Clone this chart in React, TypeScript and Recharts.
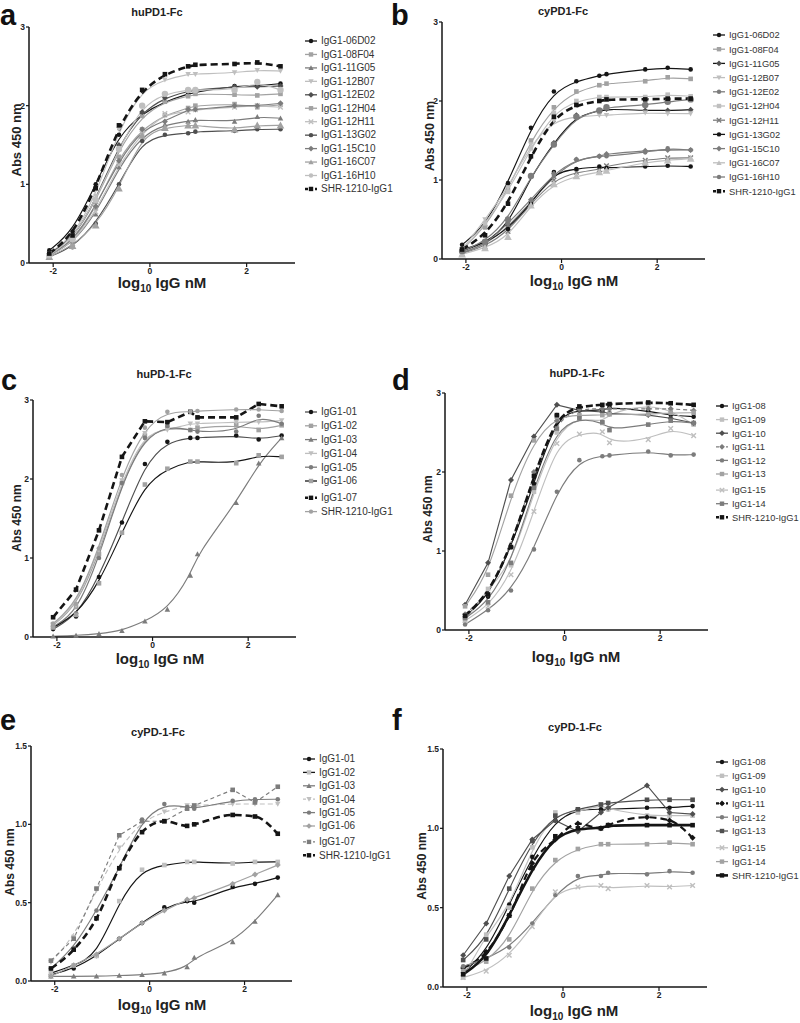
import React from 'react';
import { ComposedChart, Line, XAxis, YAxis } from 'recharts';

// log10 of the IgG concentrations (nM), shared by every panel
const logConc = [-2.08, -1.6, -1.12, -0.64, -0.16, 0.31, 0.79, 0.94, 1.75, 2.22, 2.7];

// a: huPD1-Fc
const aNames = ['IgG1-06D02', 'IgG1-08F04', 'IgG1-11G05', 'IgG1-12B07', 'IgG1-12E02', 'IgG1-12H04', 'IgG1-12H11', 'IgG1-13G02', 'IgG1-15C10', 'IgG1-16C07', 'IgG1-16H10', 'SHR-1210-IgG1'];
const aValues = [
  [0.16, 0.40, 1.00, 1.63, 1.90, 2.05, 2.15, 2.17, 2.25, 2.25, 2.28],
  [0.12, 0.30, 0.78, 1.45, 1.87, 2.05, 2.12, 2.15, 2.14, 2.13, 2.15],
  [0.10, 0.25, 0.62, 1.22, 1.62, 1.76, 1.80, 1.82, 1.80, 1.86, 1.84],
  [0.12, 0.33, 0.85, 1.70, 2.20, 2.33, 2.40, 2.40, 2.42, 2.45, 2.44],
  [0.12, 0.30, 0.80, 1.50, 1.92, 2.10, 2.18, 2.20, 2.24, 2.24, 2.25],
  [0.10, 0.25, 0.70, 1.35, 1.70, 1.88, 1.97, 2.00, 2.02, 1.98, 2.01],
  [0.10, 0.25, 0.65, 1.25, 1.65, 1.90, 1.92, 1.95, 1.98, 2.00, 1.98],
  [0.08, 0.20, 0.50, 1.00, 1.55, 1.63, 1.65, 1.67, 1.68, 1.70, 1.70],
  [0.10, 0.27, 0.72, 1.30, 1.70, 1.80, 1.95, 1.95, 2.00, 2.00, 2.03],
  [0.08, 0.22, 0.48, 0.95, 1.62, 1.72, 1.75, 1.75, 1.70, 1.75, 1.75],
  [0.10, 0.30, 0.80, 1.45, 2.00, 2.15, 2.20, 2.20, 2.20, 2.30, 2.20],
  [0.12, 0.35, 0.95, 1.75, 2.20, 2.40, 2.50, 2.52, 2.53, 2.55, 2.50],
];

// b: cyPD1-Fc
const bNames = ['IgG1-06D02', 'IgG1-08F04', 'IgG1-11G05', 'IgG1-12B07', 'IgG1-12E02', 'IgG1-12H04', 'IgG1-12H11', 'IgG1-13G02', 'IgG1-15C10', 'IgG1-16C07', 'IgG1-16H10', 'SHR-1210-IgG1'];
const bValues = [
  [0.18, 0.42, 0.96, 1.66, 2.12, 2.25, 2.32, 2.34, 2.40, 2.42, 2.40],
  [0.12, 0.40, 0.88, 1.50, 1.92, 2.12, 2.20, 2.22, 2.25, 2.30, 2.28],
  [0.10, 0.20, 0.42, 1.05, 1.47, 1.82, 1.87, 1.90, 1.88, 1.88, 1.89],
  [0.12, 0.50, 0.90, 1.45, 1.75, 1.80, 1.82, 1.82, 1.85, 1.84, 1.84],
  [0.08, 0.18, 0.40, 0.72, 1.05, 1.26, 1.30, 1.30, 1.35, 1.40, 1.38],
  [0.10, 0.45, 0.85, 1.40, 1.85, 2.00, 2.05, 2.05, 2.05, 2.08, 2.06],
  [0.07, 0.16, 0.35, 0.70, 1.00, 1.10, 1.13, 1.18, 1.25, 1.28, 1.28],
  [0.12, 0.20, 0.38, 0.70, 1.10, 1.14, 1.17, 1.15, 1.17, 1.18, 1.17],
  [0.08, 0.18, 0.45, 0.75, 1.08, 1.26, 1.30, 1.33, 1.37, 1.38, 1.38],
  [0.06, 0.14, 0.28, 0.68, 0.95, 1.05, 1.10, 1.12, 1.22, 1.25, 1.27],
  [0.10, 0.22, 0.50, 1.05, 1.45, 1.80, 1.88, 1.92, 1.95, 1.99, 2.02],
  [0.12, 0.30, 0.70, 1.30, 1.80, 1.95, 2.00, 2.02, 2.02, 2.03, 2.03],
];

// c: huPD-1-Fc
const cNames = ['IgG1-01', 'IgG1-02', 'IgG1-03', 'IgG1-04', 'IgG1-05', 'IgG1-06', 'IgG1-07', 'SHR-1210-IgG1'];
const cValues = [
  [0.10, 0.26, 0.76, 1.45, 2.19, 2.47, 2.52, 2.52, 2.55, 2.50, 2.55],
  [0.15, 0.38, 1.05, 1.95, 2.55, 2.65, 2.62, 2.65, 2.68, 2.62, 2.68],
  [0.01, 0.02, 0.04, 0.08, 0.20, 0.35, 0.78, 1.05, 1.70, 2.20, 2.52],
  [0.16, 0.40, 1.10, 1.98, 2.58, 2.62, 2.70, 2.70, 2.72, 2.72, 2.74],
  [0.13, 0.30, 1.00, 1.95, 2.52, 2.67, 2.62, 2.60, 2.60, 2.80, 2.70],
  [0.12, 0.28, 0.68, 1.32, 1.93, 2.13, 2.22, 2.22, 2.20, 2.30, 2.28],
  [0.25, 0.60, 1.35, 2.28, 2.73, 2.72, 2.85, 2.78, 2.78, 2.95, 2.92],
  [0.17, 0.42, 1.12, 2.05, 2.65, 2.85, 2.85, 2.86, 2.88, 2.88, 2.86],
];

// d: huPD-1-Fc
const dNames = ['IgG1-08', 'IgG1-09', 'IgG1-10', 'IgG1-11', 'IgG1-12', 'IgG1-13', 'IgG1-15', 'IgG1-14', 'SHR-1210-IgG1'];
const dValues = [
  [0.17, 0.42, 1.05, 1.85, 2.72, 2.78, 2.78, 2.82, 2.77, 2.72, 2.70],
  [0.12, 0.52, 0.82, 1.75, 2.50, 2.70, 2.62, 2.75, 2.85, 2.78, 2.60],
  [0.32, 0.85, 1.90, 2.45, 2.85, 2.78, 2.76, 2.74, 2.72, 2.68, 2.62],
  [0.20, 0.45, 1.05, 2.00, 2.65, 2.80, 2.80, 2.80, 2.80, 2.80, 2.78],
  [0.07, 0.25, 0.50, 1.02, 1.75, 2.15, 2.20, 2.21, 2.26, 2.21, 2.22],
  [0.30, 0.70, 1.70, 2.40, 2.70, 2.72, 2.72, 2.73, 2.73, 2.75, 2.75],
  [0.12, 0.30, 0.70, 1.50, 2.36, 2.48, 2.51, 2.37, 2.41, 2.55, 2.46],
  [0.15, 0.35, 0.85, 1.80, 2.55, 2.68, 2.63, 2.53, 2.60, 2.65, 2.62],
  [0.18, 0.45, 1.05, 1.95, 2.72, 2.83, 2.85, 2.86, 2.88, 2.87, 2.85],
];

// e: cyPD-1-Fc
const eNames = ['IgG1-01', 'IgG1-02', 'IgG1-03', 'IgG1-04', 'IgG1-05', 'IgG1-06', 'IgG1-07', 'SHR-1210-IgG1'];
const eValues = [
  [0.04, 0.08, 0.16, 0.27, 0.37, 0.47, 0.51, 0.50, 0.60, 0.62, 0.66],
  [0.05, 0.10, 0.16, 0.51, 0.71, 0.74, 0.76, 0.76, 0.75, 0.76, 0.76],
  [0.03, 0.03, 0.03, 0.035, 0.04, 0.05, 0.09, 0.15, 0.25, 0.38, 0.55],
  [0.12, 0.28, 0.58, 0.85, 1.02, 1.08, 1.12, 1.12, 1.13, 1.13, 1.13],
  [0.08, 0.21, 0.45, 0.72, 1.03, 1.13, 1.11, 1.10, 1.15, 1.16, 1.16],
  [0.03, 0.10, 0.17, 0.27, 0.37, 0.45, 0.52, 0.53, 0.62, 0.68, 0.74],
  [0.13, 0.27, 0.59, 0.93, 1.02, 1.02, 1.10, 1.12, 1.22, 1.14, 1.24],
  [0.08, 0.20, 0.40, 0.72, 0.95, 1.02, 0.99, 1.00, 1.06, 1.05, 0.94],
];

// f: cyPD-1-Fc
const fNames = ['IgG1-08', 'IgG1-09', 'IgG1-10', 'IgG1-11', 'IgG1-12', 'IgG1-13', 'IgG1-15', 'IgG1-14', 'SHR-1210-IgG1'];
const fValues = [
  [0.09, 0.22, 0.52, 0.82, 1.05, 1.12, 1.12, 1.12, 1.13, 1.13, 1.14],
  [0.06, 0.33, 0.50, 0.88, 1.10, 1.10, 1.15, 1.12, 1.08, 1.08, 1.08],
  [0.20, 0.40, 0.70, 0.93, 1.05, 0.98, 1.10, 1.13, 1.27, 1.10, 1.09],
  [0.12, 0.22, 0.45, 0.78, 0.93, 1.03, 1.00, 1.02, 1.07, 1.05, 0.94],
  [0.13, 0.18, 0.25, 0.40, 0.58, 0.70, 0.70, 0.72, 0.71, 0.73, 0.72],
  [0.17, 0.30, 0.62, 0.92, 1.08, 1.12, 1.15, 1.16, 1.18, 1.18, 1.18],
  [0.06, 0.10, 0.20, 0.38, 0.60, 0.63, 0.64, 0.62, 0.64, 0.63, 0.64],
  [0.10, 0.16, 0.30, 0.62, 0.80, 0.87, 0.90, 0.90, 0.90, 0.91, 0.90],
  [0.08, 0.18, 0.45, 0.75, 0.95, 1.00, 1.00, 1.02, 1.02, 1.02, 1.02],
];

const FONT = "'Liberation Sans', Arial, Helvetica, sans-serif";
const K = '#151515';
const D = '#4f4f4f';
const M = '#7c7c7c';
const L = '#a2a2a2';
const P = '#bfbfbf';

type Shape = 'circle' | 'square' | 'triangle' | 'tridown' | 'diamond' | 'x';
type Style = { c: string; m: Shape; dc?: string; s?: number; dash?: string; w?: number; curve?: 'basis' | 'linear' | 'monotone' };

const aStyles: Style[] = [
  { c: K, m: 'circle' }, { c: L, m: 'square' }, { c: M, m: 'triangle' }, { c: P, m: 'tridown' },
  { c: D, m: 'diamond' }, { c: L, m: 'square' }, { c: P, m: 'x' }, { c: D, m: 'circle' },
  { c: M, m: 'diamond' }, { c: L, m: 'triangle', s: 3.2 }, { c: P, m: 'circle', s: 3.2 },
  { c: K, m: 'square', dash: '7 4', w: 2.6 },
];
const bStyles: Style[] = [
  { c: K, m: 'circle' }, { c: L, m: 'square' }, { c: K, m: 'diamond', dc: D }, { c: P, m: 'tridown' },
  { c: M, m: 'circle' }, { c: P, m: 'square' }, { c: M, m: 'x' }, { c: K, m: 'circle' },
  { c: M, m: 'diamond' }, { c: P, m: 'triangle', s: 3.2 }, { c: M, m: 'circle', s: 3.2 },
  { c: K, m: 'square', dash: '7 4', w: 2.6 },
];
const cStyles: Style[] = [
  { c: D, m: 'circle', dc: K }, { c: L, m: 'square' }, { c: M, m: 'triangle' }, { c: P, m: 'tridown' },
  { c: M, m: 'circle' }, { c: K, m: 'square', dc: L }, { c: K, m: 'square', dash: '7 4', w: 2.6, curve: 'linear' },
  { c: L, m: 'circle' },
];
const dStyles: Style[] = [
  { c: K, m: 'circle' }, { c: P, m: 'square' }, { c: D, m: 'diamond', curve: 'linear' }, { c: M, m: 'diamond', dash: '4 3' },
  { c: M, m: 'circle' }, { c: L, m: 'square' }, { c: P, m: 'x' }, { c: M, m: 'square' },
  { c: K, m: 'square', dash: '7 3', w: 2.6 },
];
const eStyles: Style[] = [
  { c: K, m: 'circle' }, { c: K, m: 'square', dc: P }, { c: M, m: 'triangle' }, { c: P, m: 'tridown', dash: '5 3' },
  { c: M, m: 'circle' }, { c: L, m: 'diamond' }, { c: M, m: 'square', dash: '4 3', curve: 'linear' },
  { c: K, m: 'square', dash: '7 4', w: 2.6, curve: 'monotone' },
];
const fStyles: Style[] = [
  { c: K, m: 'circle' }, { c: P, m: 'square' }, { c: D, m: 'diamond', curve: 'linear' }, { c: K, m: 'diamond', dash: '7 4', w: 2.2, curve: 'monotone' },
  { c: M, m: 'circle' }, { c: D, m: 'square' }, { c: P, m: 'x' }, { c: L, m: 'square' },
  { c: K, m: 'square', w: 2.6 },
];

type Panel = {
  letter: string; title: string; names: string[]; values: number[][]; styles: Style[];
  plot: { x0: number; x1: number; y0: number; y1: number };
  yMax: number; yTicks: number[]; dec: number;
  letterPos: [number, number]; titlePos: [number, number];
  yLab: [number, number, number]; xLab: [number, number];
  legend: { x: number; y: number; step: number; gapAt: number; gap: number; font: number };
};

const panels: Panel[] = [
  {
    letter: 'a', title: 'huPD1-Fc', names: aNames, values: aValues, styles: aStyles,
    plot: { x0: 29, x1: 295, y0: 27, y1: 263 }, yMax: 3, yTicks: [0, 1, 2, 3], dec: 0,
    letterPos: [0, 25], titlePos: [157, 16], yLab: [21, 140, 13], xLab: [162, 288],
    legend: { x: 305, y: 41, step: 13.45, gapAt: -1, gap: 0, font: 10 },
  },
  {
    letter: 'b', title: 'cyPD1-Fc', names: bNames, values: bValues, styles: bStyles,
    plot: { x0: 442, x1: 705, y0: 22, y1: 259 }, yMax: 3, yTicks: [0, 1, 2, 3], dec: 0,
    letterPos: [391, 25], titlePos: [563, 15], yLab: [434, 136, 12.5], xLab: [574, 286],
    legend: { x: 713, y: 35, step: 14.2, gapAt: -1, gap: 0, font: 9.3 },
  },
  {
    letter: 'c', title: 'huPD-1-Fc', names: cNames, values: cValues, styles: cStyles,
    plot: { x0: 33, x1: 296, y0: 400, y1: 637 }, yMax: 3, yTicks: [0, 1, 2, 3], dec: 0,
    letterPos: [1, 390], titlePos: [164, 378], yLab: [21, 518, 12], xLab: [160, 664],
    legend: { x: 305, y: 412, step: 13.8, gapAt: 6, gap: 3, font: 10 },
  },
  {
    letter: 'd', title: 'huPD-1-Fc', names: dNames, values: dValues, styles: dStyles,
    plot: { x0: 445, x1: 708, y0: 393, y1: 630 }, yMax: 3, yTicks: [0, 1, 2, 3], dec: 0,
    letterPos: [392, 390], titlePos: [577, 377], yLab: [432, 509, 12], xLab: [576, 662],
    legend: { x: 716, y: 406, step: 13.6, gapAt: 6, gap: 2.5, font: 9.3 },
  },
  {
    letter: 'e', title: 'cyPD-1-Fc', names: eNames, values: eValues, styles: eStyles,
    plot: { x0: 31, x1: 292, y0: 746, y1: 981 }, yMax: 1.5, yTicks: [0, 0.5, 1, 1.5], dec: 1,
    letterPos: [0, 730], titlePos: [158, 736], yLab: [14, 862, 12], xLab: [162, 1010],
    legend: { x: 303, y: 759, step: 13.4, gapAt: 6, gap: 2.5, font: 10 },
  },
  {
    letter: 'f', title: 'cyPD-1-Fc', names: fNames, values: fValues, styles: fStyles,
    plot: { x0: 443, x1: 707, y0: 749, y1: 987 }, yMax: 1.5, yTicks: [0, 0.5, 1, 1.5], dec: 1,
    letterPos: [392, 730], titlePos: [575, 731], yLab: [426, 866, 12], xLab: [574, 1016],
    legend: { x: 716, y: 762, step: 13.8, gapAt: 6, gap: 3, font: 9.3 },
  },
];

function Mark({ shape, x, y, c, s }: { shape: Shape; x: number; y: number; c: string; s: number }) {
  switch (shape) {
    case 'circle':
      return <circle cx={x} cy={y} r={s} fill={c} />;
    case 'square':
      return <rect x={x - s} y={y - s} width={2 * s} height={2 * s} fill={c} />;
    case 'triangle':
      return <polygon points={`${x},${y - s * 1.2} ${x - s * 1.2},${y + s} ${x + s * 1.2},${y + s}`} fill={c} />;
    case 'tridown':
      return <polygon points={`${x},${y + s * 1.2} ${x - s * 1.2},${y - s} ${x + s * 1.2},${y - s}`} fill={c} />;
    case 'diamond':
      return <polygon points={`${x},${y - s * 1.3} ${x + s * 1.3},${y} ${x},${y + s * 1.3} ${x - s * 1.3},${y}`} fill={c} />;
    default:
      return (
        <path d={`M${x - s},${y - s}L${x + s},${y + s}M${x - s},${y + s}L${x + s},${y - s}`} stroke={c} strokeWidth={1.4} />
      );
  }
}

function PanelChart({ p }: { p: Panel }) {
  const data = logConc.map((x, i) => {
    const row: Record<string, number> = { x };
    p.values.forEach((v, j) => {
      row['s' + j] = v[i];
    });
    return row;
  });
  const yW = 30;
  const xH = 20;
  const left = p.plot.x0 - yW - 10;
  const top = p.plot.y0 - 8;
  const width = p.plot.x1 - left + 6;
  const height = p.plot.y1 - top + xH + 4;
  const axisTick = { fontSize: 8.5, fontWeight: 700, fill: '#222', fontFamily: FONT };
  return (
    <div style={{ position: 'absolute', left, top }}>
      <ComposedChart
        width={width}
        height={height}
        data={data}
        margin={{ left: 10, top: 8, right: 6, bottom: 4 }}
      >
        <XAxis
          type="number"
          dataKey="x"
          domain={[-2.5, 3]}
          ticks={[-2, 0, 2]}
          height={xH}
          tick={axisTick}
          tickSize={4}
          tickMargin={1}
          axisLine={{ stroke: K, strokeWidth: 1.5 }}
          tickLine={{ stroke: K, strokeWidth: 1.2 }}
        />
        <YAxis
          type="number"
          domain={[0, p.yMax]}
          ticks={p.yTicks}
          width={yW}
          tick={axisTick}
          tickSize={3}
          tickMargin={1}
          tickFormatter={(v: number) => v.toFixed(p.dec)}
          axisLine={{ stroke: K, strokeWidth: 1.5 }}
          tickLine={{ stroke: K, strokeWidth: 1.2 }}
        />
        {p.styles.map((st, j) => (
          <Line
            key={j}
            dataKey={'s' + j}
            type={st.curve ?? 'basis'}
            stroke={st.c}
            strokeWidth={st.w ?? 1.15}
            strokeDasharray={st.dash}
            isAnimationActive={false}
            activeDot={false}
            dot={(props: any) => (
              <g key={`d${j}-${props.index}`}>
                {props.cx != null && props.cy != null ? (
                  <Mark shape={st.m} x={props.cx} y={props.cy} c={st.dc ?? st.c} s={st.s ?? 2.3} />
                ) : null}
              </g>
            )}
          />
        ))}
      </ComposedChart>
    </div>
  );
}

function Texts() {
  return (
    <svg width={800} height={1023} style={{ position: 'absolute', left: 0, top: 0, pointerEvents: 'none' }} fontFamily={FONT}>
      {panels.map((p) => {
        const lg = p.legend;
        return (
          <g key={p.letter}>
            <text x={p.letterPos[0]} y={p.letterPos[1]} fontSize={29} fontWeight={700} fill="#111">
              {p.letter}
            </text>
            <text x={p.titlePos[0]} y={p.titlePos[1]} fontSize={11} fontWeight={700} fill="#222" textAnchor="middle">
              {p.title}
            </text>
            <text
              x={p.yLab[0]}
              y={p.yLab[1]}
              fontSize={p.yLab[2]}
              fontWeight={700}
              fill="#222"
              textAnchor="middle"
              transform={`rotate(-90 ${p.yLab[0]} ${p.yLab[1]})`}
            >
              Abs 450 nm
            </text>
            <text x={p.xLab[0]} y={p.xLab[1]} fontSize={15} fontWeight={700} fill="#222" textAnchor="middle">
              log
              <tspan fontSize={10} dy={4}>10</tspan>
              <tspan dy={-4}> IgG nM</tspan>
            </text>
            {p.names.map((n, i) => {
              const st = p.styles[i];
              const y = lg.y + i * lg.step + (lg.gapAt >= 0 && i >= lg.gapAt ? lg.gap : 0);
              return (
                <g key={n + i}>
                  <line
                    x1={lg.x}
                    x2={lg.x + 12}
                    y1={y}
                    y2={y}
                    stroke={st.c}
                    strokeWidth={st.w ? st.w : 1.3}
                    strokeDasharray={st.dash ? '3 2' : undefined}
                  />
                  <Mark shape={st.m} x={lg.x + 6} y={y} c={st.dc ?? st.c} s={2.2} />
                  <text x={lg.x + 16} y={y + 3.3} fontSize={lg.font} fill="#333">
                    {n}
                  </text>
                </g>
              );
            })}
          </g>
        );
      })}
    </svg>
  );
}

export default function App() {
  return (
    <div style={{ position: 'absolute', left: 0, top: 0, width: 800, height: 1023, background: '#fff', fontFamily: FONT }}>
      {panels.map((p) => (
        <PanelChart key={p.letter} p={p} />
      ))}
      <Texts />
    </div>
  );
}
